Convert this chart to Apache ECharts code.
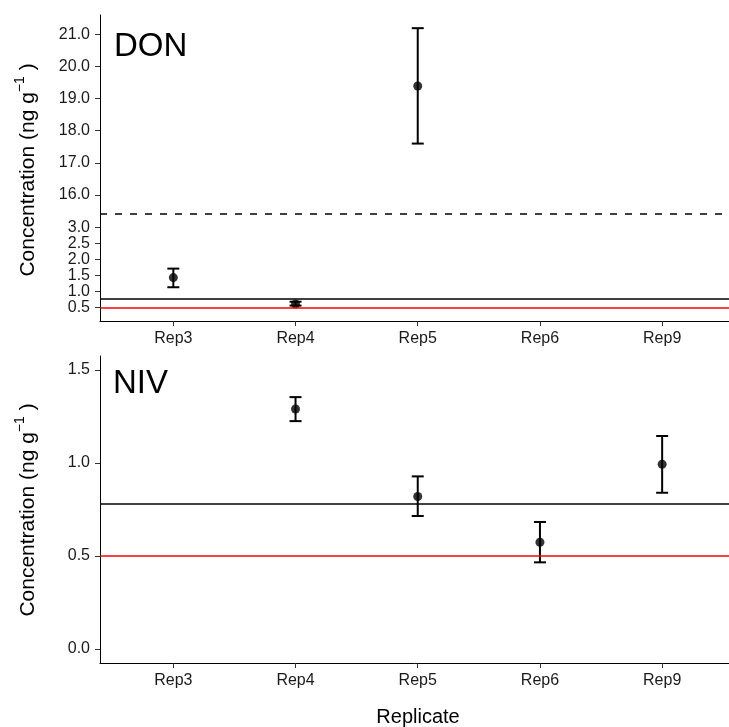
<!DOCTYPE html>
<html>
<head>
<meta charset="utf-8">
<script src="https://cdn.jsdelivr.net/npm/echarts@6/dist/echarts.min.js"></script>
<style>html,body{margin:0;padding:0;background:#fff;}#c{width:729px;height:727px;}</style>
</head>
<body>
<div id="c"></div>
<script>
// ---- data ----
const categories = ['Rep3', 'Rep4', 'Rep5', 'Rep6', 'Rep9'];
const donMean = [1.43, 0.61, 19.39, null, null];
const donLow  = [1.13, 0.56, 17.60, null, null];
const donHigh = [1.71, 0.68, 21.19, null, null];
const nivMean = [null, 1.29, 0.82, 0.574, 0.993];
const nivLow  = [null, 1.225, 0.715, 0.466, 0.84];
const nivHigh = [null, 1.354, 0.928, 0.683, 1.145];
const donTicksLow = [0.5, 1.0, 1.5, 2.0, 2.5, 3.0];
const donTicksHigh = [16.0, 17.0, 18.0, 19.0, 20.0, 21.0];
const nivTicks = [0.0, 0.5, 1.0, 1.5];
const refBlack = 0.78;
const refRed = 0.5;
const donBreakShift = 12;      // upper segment shifted down by this amount
const donBreakThreshold = 10;  // values above this belong to upper segment
const donBreakLine = 3.42;     // dashed break marker (axis units)

const FONT = "'Liberation Sans', Arial, Helvetica, sans-serif";
const tf = v => (v > donBreakThreshold ? v - donBreakShift : v);
const untf = t => (t > 3.5 ? t + donBreakShift : t);
const xIdx = categories.map((c, i) => i + 1);

function errData(lo, hi, f) {
  const out = [];
  lo.forEach((v, i) => { if (v != null) out.push([xIdx[i], f(v), f(hi[i])]); });
  return out;
}
function ptData(m, f) {
  const out = [];
  m.forEach((v, i) => { if (v != null) out.push([xIdx[i], f(v)]); });
  return out;
}
function renderErr(params, api) {
  const x = api.value(0), lo = api.value(1), hi = api.value(2);
  const a = api.coord([x, lo]), b = api.coord([x, hi]);
  const w = 6;
  const st = { stroke: '#000', lineWidth: 2 };
  return { type: 'group', children: [
    { type: 'line', shape: { x1: a[0], y1: a[1], x2: b[0], y2: b[1] }, style: st },
    { type: 'line', shape: { x1: a[0] - w, y1: a[1], x2: a[0] + w, y2: a[1] }, style: st },
    { type: 'line', shape: { x1: b[0] - w, y1: b[1], x2: b[0] + w, y2: b[1] }, style: st }
  ]};
}

const xAxisBase = gi => ({
  type: 'value', gridIndex: gi, min: 0.4, max: 5.547,
  splitLine: { show: false },
  axisLine: { show: true, onZero: false, lineStyle: { color: '#000', width: 1 } },
  axisTick: { show: true, customValues: xIdx, length: 5, lineStyle: { color: '#333' } },
  axisLabel: { customValues: xIdx, formatter: v => categories[Math.round(v) - 1] || '',
               fontSize: 16, color: '#1a1a1a', fontFamily: FONT, margin: 10 }
});

const donTickT = donTicksLow.concat(donTicksHigh).map(tf);

const chart = echarts.init(document.getElementById('c'), null, { renderer: 'canvas' });
chart.setOption({
  animation: false,
  backgroundColor: '#fff',
  grid: [
    { left: 100, top: 15, right: 0, height: 306 },
    { left: 100, top: 356, right: 0, height: 307 }
  ],
  xAxis: [xAxisBase(0), xAxisBase(1)],
  yAxis: [
    { type: 'value', gridIndex: 0, min: 0.08, max: 9.6,
      splitLine: { show: false },
      axisLine: { show: true, onZero: false, lineStyle: { color: '#000', width: 1 } },
      axisTick: { show: true, customValues: donTickT, length: 5, lineStyle: { color: '#333' } },
      axisLabel: { customValues: donTickT, formatter: t => untf(t).toFixed(1),
                   fontSize: 16, color: '#1a1a1a', fontFamily: FONT, margin: 10 } },
    { type: 'value', gridIndex: 1, min: -0.075, max: 1.575,
      splitLine: { show: false },
      axisLine: { show: true, onZero: false, lineStyle: { color: '#000', width: 1 } },
      axisTick: { show: true, customValues: nivTicks, length: 5, lineStyle: { color: '#333' } },
      axisLabel: { customValues: nivTicks, formatter: v => v.toFixed(1),
                   fontSize: 16, color: '#1a1a1a', fontFamily: FONT, margin: 10 } }
  ],
  series: [
    { type: 'custom', xAxisIndex: 0, yAxisIndex: 0, renderItem: renderErr,
      data: errData(donLow, donHigh, tf), encode: { x: 0, y: [1, 2] }, z: 3 },
    { type: 'scatter', xAxisIndex: 0, yAxisIndex: 0, symbolSize: 9,
      itemStyle: { color: '#000' }, data: ptData(donMean, tf), z: 4,
      markLine: { silent: true, symbol: 'none', label: { show: false },
        data: [
          { yAxis: tf(refBlack), lineStyle: { color: '#000', width: 1.5, type: 'solid' } },
          { yAxis: tf(refRed), lineStyle: { color: '#ff0000', width: 1.5, type: 'solid' } },
          { yAxis: donBreakLine, lineStyle: { color: '#000', width: 1.5, type: [7, 8] } }
        ] } },
    { type: 'custom', xAxisIndex: 1, yAxisIndex: 1, renderItem: renderErr,
      data: errData(nivLow, nivHigh, v => v), encode: { x: 0, y: [1, 2] }, z: 3 },
    { type: 'scatter', xAxisIndex: 1, yAxisIndex: 1, symbolSize: 9,
      itemStyle: { color: '#000' }, data: ptData(nivMean, v => v), z: 4,
      markLine: { silent: true, symbol: 'none', label: { show: false },
        data: [
          { yAxis: refBlack, lineStyle: { color: '#000', width: 1.5, type: 'solid' } },
          { yAxis: refRed, lineStyle: { color: '#ff0000', width: 1.5, type: 'solid' } }
        ] } }
  ],
  graphic: [
    { type: 'text', x: 114, y: 47, style: { text: 'DON', fontSize: 33, fontFamily: FONT, fill: '#000',
        textAlign: 'left', textVerticalAlign: 'middle' } },
    { type: 'text', x: 113, y: 384, style: { text: 'NIV', fontSize: 33, fontFamily: FONT, fill: '#000',
        textAlign: 'left', textVerticalAlign: 'middle' } },
    { type: 'text', x: 418, y: 717, style: { text: 'Replicate', fontSize: 20, fontFamily: FONT, fill: '#000',
        textAlign: 'center', textVerticalAlign: 'middle' } },
    { type: 'text', x: 26, y: 170, rotation: Math.PI / 2, style: {
        text: '{a|Concentration (ng g}{s|\u22121}{a| )}', textAlign: 'center', textVerticalAlign: 'middle',
        rich: { a: { fontSize: 21, fontFamily: FONT, fill: '#000', lineHeight: 26, verticalAlign: 'bottom' },
                s: { fontSize: 14, fontFamily: FONT, fill: '#000', lineHeight: 15, verticalAlign: 'top' } } } },
    { type: 'text', x: 26, y: 510, rotation: Math.PI / 2, style: {
        text: '{a|Concentration (ng g}{s|\u22121}{a| )}', textAlign: 'center', textVerticalAlign: 'middle',
        rich: { a: { fontSize: 21, fontFamily: FONT, fill: '#000', lineHeight: 26, verticalAlign: 'bottom' },
                s: { fontSize: 14, fontFamily: FONT, fill: '#000', lineHeight: 15, verticalAlign: 'top' } } } }
  ]
});
</script>
</body>
</html>
